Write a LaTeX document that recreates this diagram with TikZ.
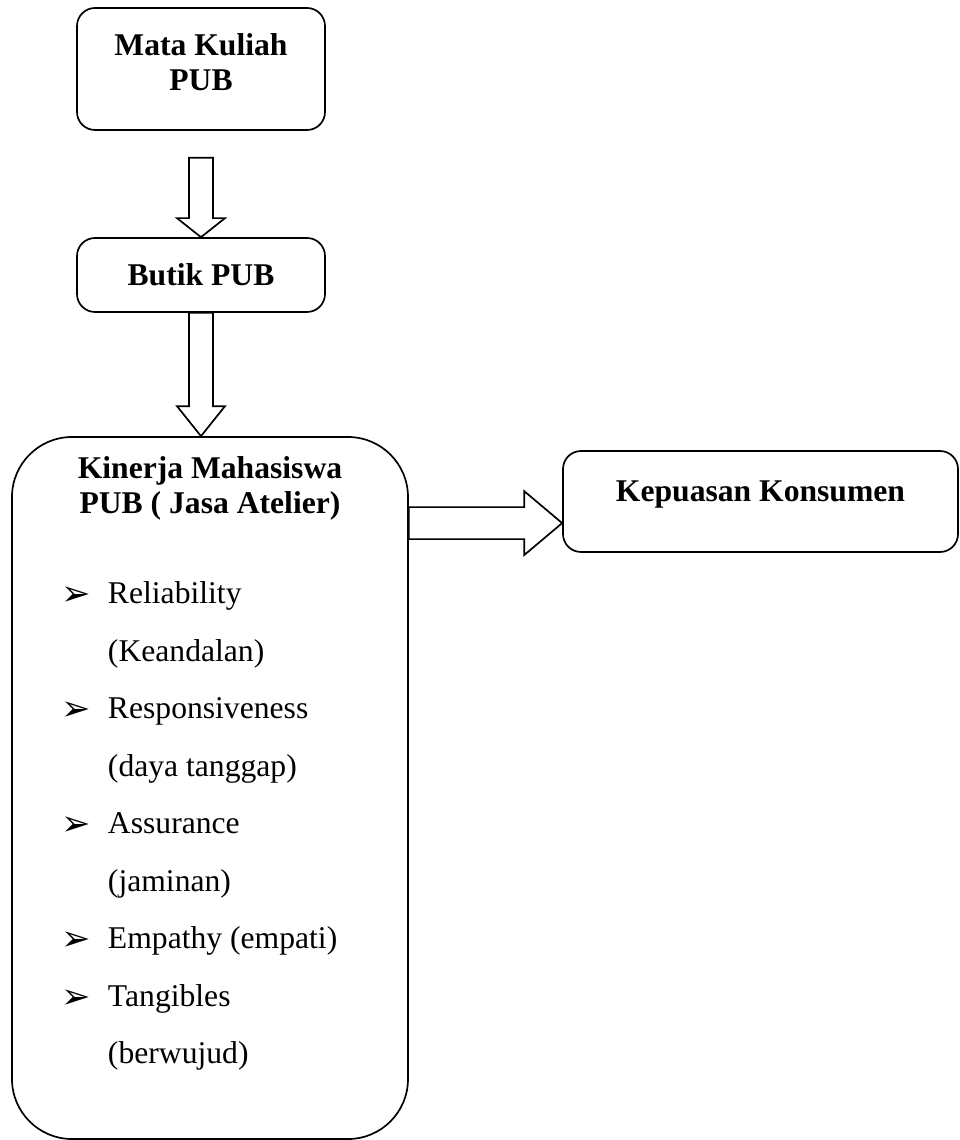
\documentclass[tikz,border=0pt]{standalone}
\usepackage{fontspec}
\setmainfont{Liberation Serif}
\newfontfamily\dingfont{DejaVu Sans}
\usetikzlibrary{calc}
\tikzstyle{box} = [rectangle, rounded corners=0.45cm, draw=black, line width=1.2pt, font=\fontsize{22.5}{25}\selectfont\bfseries]
\tikzstyle{title} = [box, text centered, align=center]
\tikzstyle{panel} = [box, rounded corners=1.5cm, inner sep=0pt, minimum width=9.9cm, minimum height=17.55cm]
\tikzstyle{blockarrow} = [draw=black, line width=1.2pt]
\tikzset{
  hollowdown/.style={to path={let \p1=(\tikztostart), \p2=(\tikztotarget) in
    (\x1-0.3cm,\y1) -- (\x1-0.3cm,\y2+#1) -- (\x1-0.6cm,\y2+#1) -- (\x1,\y2)
    -- (\x1+0.6cm,\y2+#1) -- (\x1+0.3cm,\y2+#1) -- (\x1+0.3cm,\y1) -- cycle}},
  hollowright/.style={to path={let \p1=(\tikztostart), \p2=(\tikztotarget) in
    (\x1,\y1+0.4cm) -- (\x2-#1,\y1+0.4cm) -- (\x2-#1,\y1+0.8cm) -- (\x2,\y1)
    -- (\x2-#1,\y1-0.8cm) -- (\x2-#1,\y1-0.4cm) -- (\x1,\y1-0.4cm) -- cycle}}
}
\newcommand{\pitem}[1]{\par\noindent\hspace*{1.25cm}\makebox[1.15cm][l]{\dingfont\fontsize{25}{25}\selectfont\raisebox{-0.05cm}{\char"27A2}}#1}
\newcommand{\ptext}[1]{\par\noindent\hspace*{2.4cm}#1}

\begin{document}
\begin{tikzpicture}[node distance=2cm]
\useasboundingbox (-5.025,1.725) rectangle (18.975,-26.775);
\node (mk) [title, minimum width=6.2cm, minimum height=3.05cm, text depth=0.35cm] {Mata Kuliah\\PUB};
\node (bp) [title, below of=mk, yshift=-3.15cm, minimum width=6.2cm, minimum height=1.85cm] {Butik PUB};
\node (kin) [panel, below of=bp, xshift=0.225cm, yshift=-10.825cm] {%
  \parbox[t][17.55cm][t]{9.9cm}{%
    \vspace*{0.49cm}
    {\centering\fontsize{22.5}{24.9}\selectfont\bfseries Kinerja Mahasiswa\\PUB ( Jasa Atelier)\par}
    \raggedright\mdseries\fontsize{22.5}{40.9}\selectfont
    \vspace{23.1pt}
    \pitem{Reliability}
    \ptext{(Keandalan)}
    \pitem{Responsiveness}
    \ptext{(daya tanggap)}
    \pitem{Assurance}
    \ptext{(jaminan)}
    \pitem{Empathy (empati)}
    \pitem{Tangibles}
    \ptext{(berwujud)}\par}};
\node (kep) [title, right of=kin, xshift=11.7625cm, yshift=7.1625cm, minimum width=9.875cm, minimum height=2.525cm, text depth=0.54cm] {Kepuasan Konsumen};
\coordinate (tip) at ([yshift=-0.54cm]kep.west);

\draw [blockarrow, hollowdown=0.475cm] ([yshift=-0.675cm]mk.south) to (bp.north);
\draw [blockarrow, hollowdown=0.75cm] (bp.south) to (kin.north);
\draw [blockarrow, hollowright=0.95cm] (kin.east |- tip) to (tip);
\end{tikzpicture}
\end{document}
